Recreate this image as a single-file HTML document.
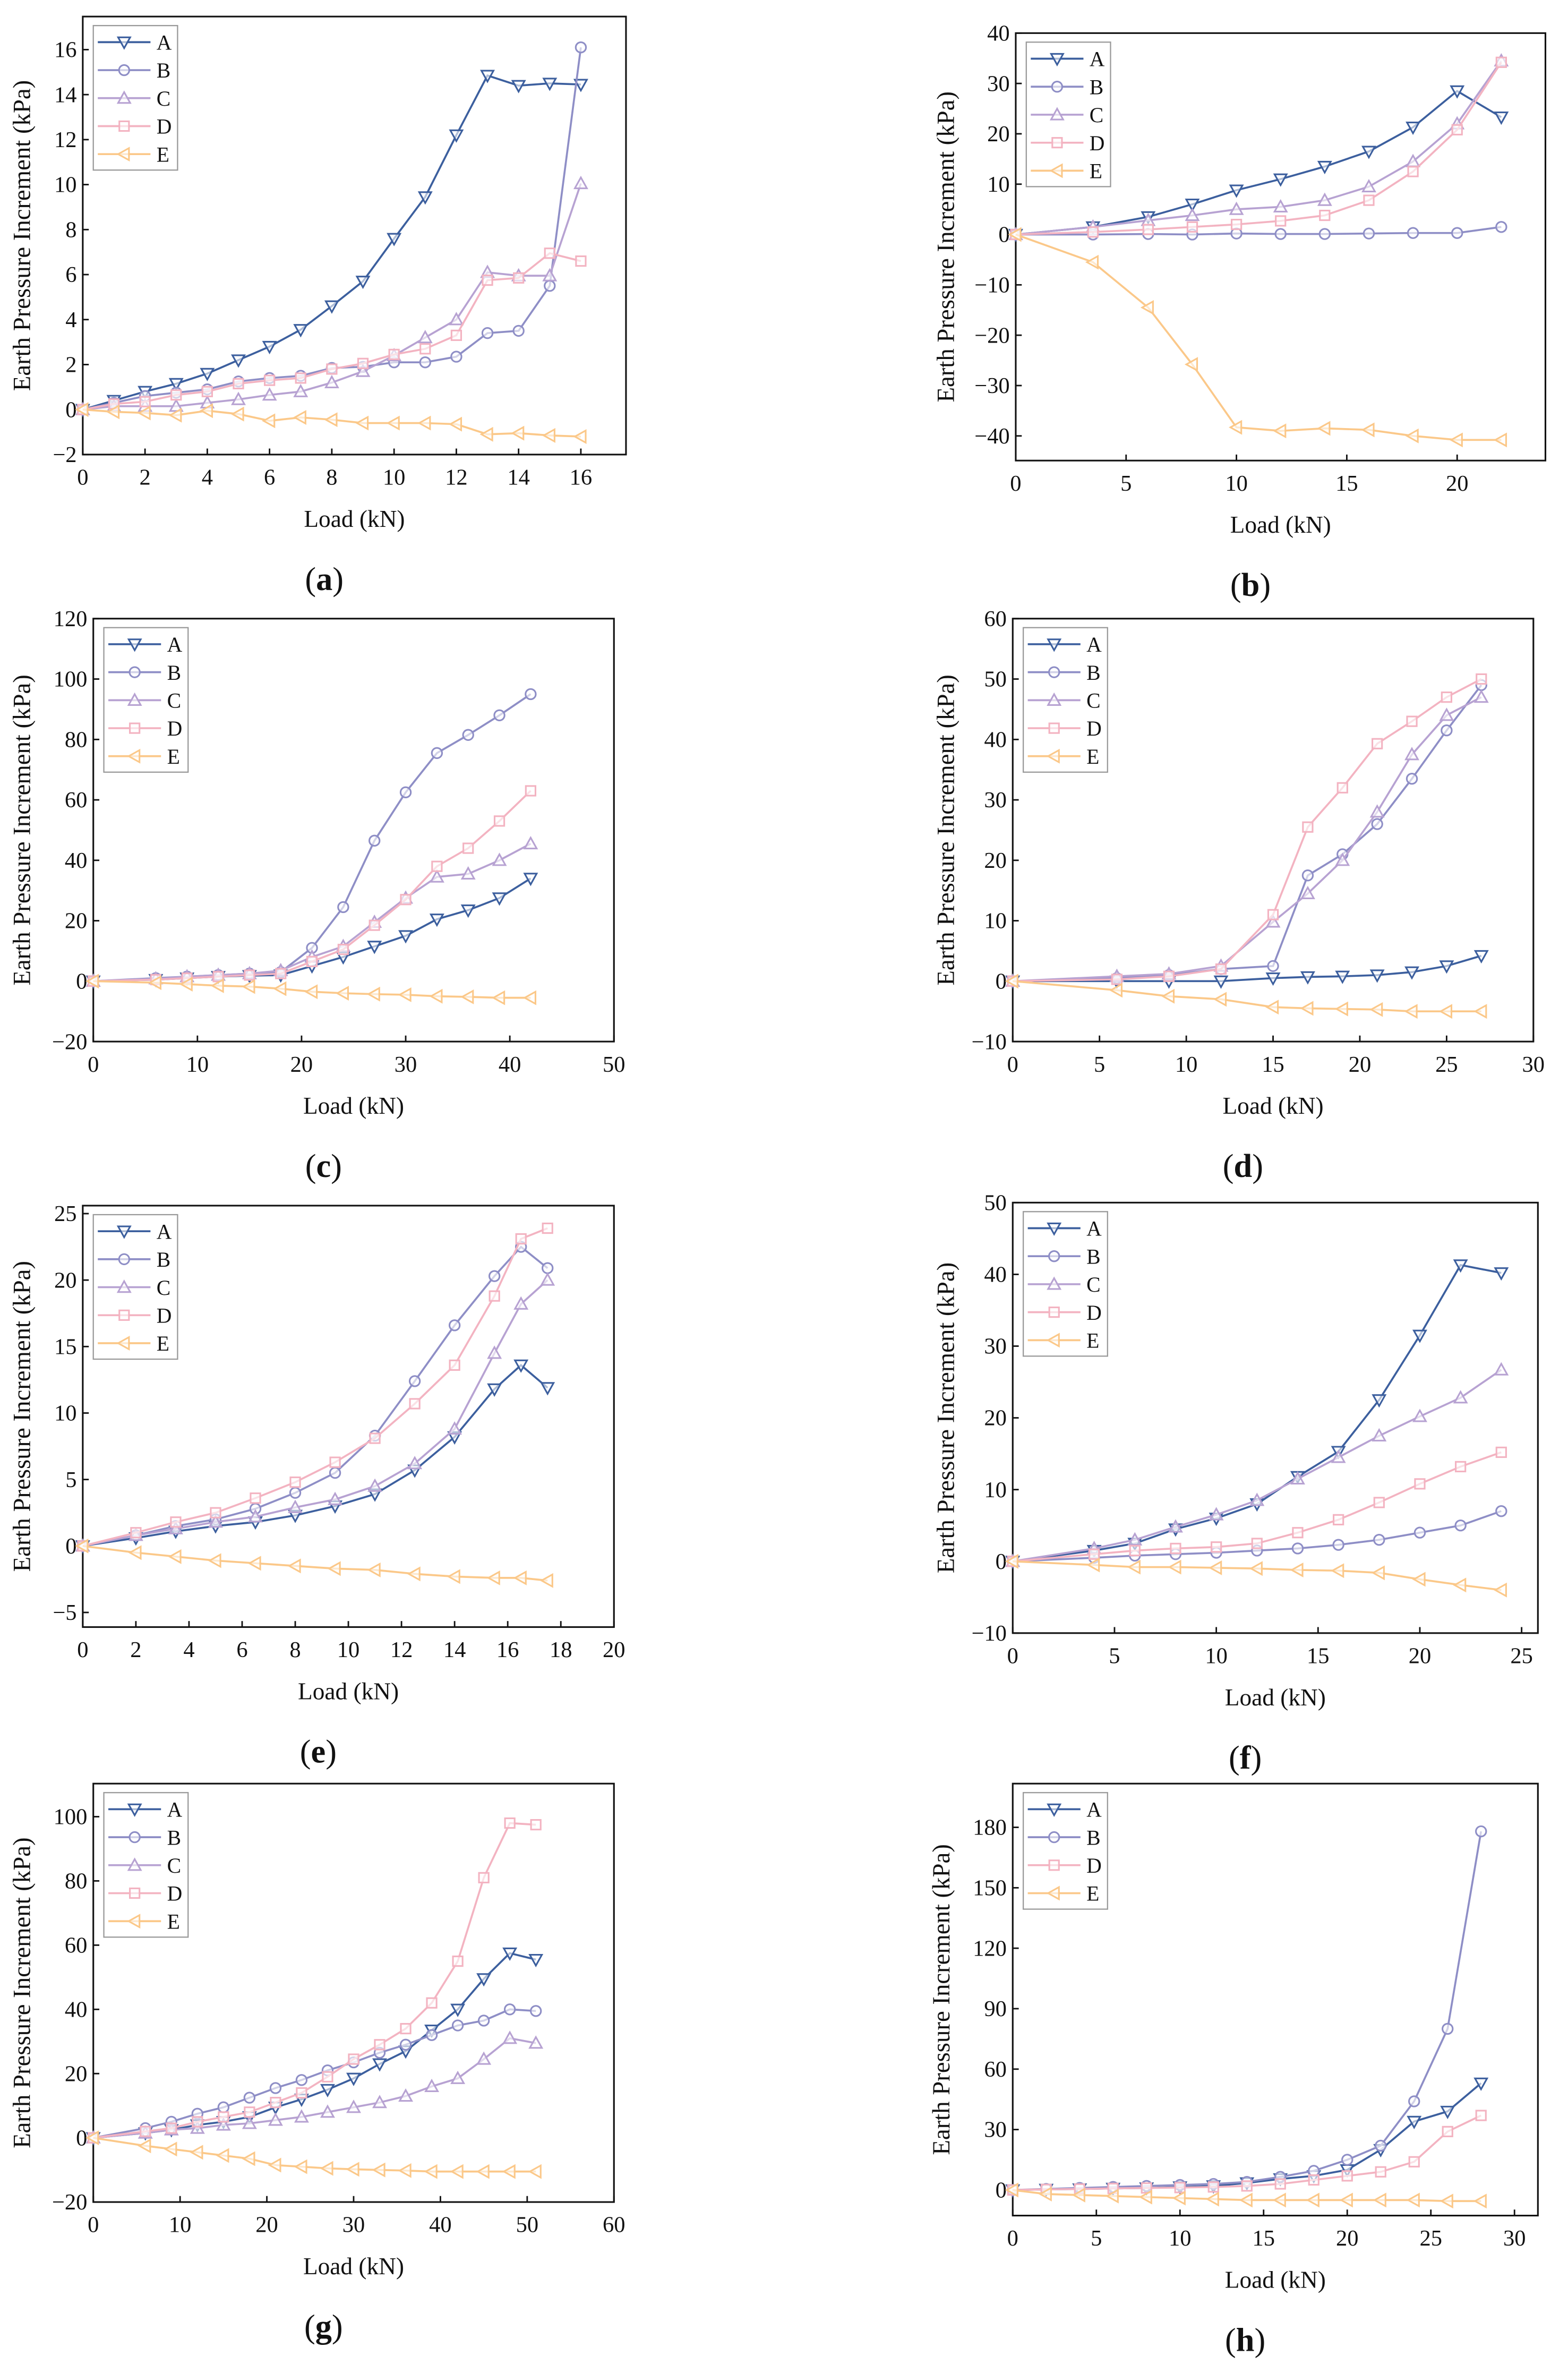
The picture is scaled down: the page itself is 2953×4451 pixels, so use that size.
<!DOCTYPE html>
<html><head><meta charset="utf-8">
<style>
html,body{margin:0;padding:0;background:#fff;}
svg{display:block;}
text{font-family:"Liberation Serif",serif;fill:#111;}
</style></head>
<body>
<svg id="fig" width="2953" height="4451" viewBox="0 0 1042 1570.6" preserveAspectRatio="none" xmlns="http://www.w3.org/2000/svg"></svg>
<script>
// ---- data ----
const xa = [0,1,2,3,4,5,6,7,8,9,10,11,12,13,14,15,16];
const aA = [0,0.4,0.8,1.15,1.6,2.2,2.8,3.55,4.6,5.7,7.6,9.45,12.2,14.85,14.4,14.5,14.45];
const aB = [0,0.3,0.6,0.75,0.9,1.25,1.4,1.5,1.85,1.9,2.1,2.1,2.35,3.4,3.5,5.5,16.1];
const aC = [0,0.15,0.15,0.15,0.3,0.45,0.65,0.8,1.2,1.7,2.4,3.2,4.0,6.1,5.95,5.95,10.05];
const aD = [0,0.25,0.35,0.65,0.8,1.15,1.3,1.4,1.8,2.05,2.45,2.7,3.3,5.75,5.85,6.95,6.6];
const aE = [0,-0.1,-0.15,-0.25,-0.05,-0.2,-0.5,-0.35,-0.45,-0.6,-0.6,-0.6,-0.65,-1.1,-1.05,-1.15,-1.2];

const xb = [0,3.5,6,8,10,12,14,16,18,20,22];
const bA = [0,1.5,3.5,6,8.8,11,13.5,16.5,21.3,28.5,23.3];
const bB = [0,0,0.1,0,0.2,0.1,0.1,0.2,0.3,0.3,1.5];
const bC = [0,1.5,2.8,3.8,5,5.5,6.8,9.5,14.5,22,34.5];
const bD = [0,0.5,1,1.5,2,2.7,3.8,6.8,12.5,20.8,34.2];
const bE = [0,-5.5,-14.5,-25.8,-38.3,-39,-38.5,-38.8,-40,-40.8,-40.8];

const xc = [0,6,9,12,15,18,21,24,27,30,33,36,39,42];
const cA = [0,0.5,1,1.5,1.8,2,5,8,11.5,15,20.5,23.5,27.5,34];
const cB = [0,1,1.5,2,2.5,3,11,24.5,46.5,62.5,75.5,81.5,88,95];
const cC = [0,0.8,1.5,2,2.5,3.5,8,11.5,19.5,27.5,34.5,35.5,40,45.5];
const cD = [0,0.5,1,1.5,2,2.5,6.5,10.5,18.5,27,38,44,53,63];
const cE = [0,-0.5,-1,-1.5,-1.8,-2.5,-3.5,-4,-4.3,-4.5,-5,-5.2,-5.5,-5.5];

const xd = [0,6,9,12,15,17,19,21,23,25,27];
const dA = [0,0,0,0,0.5,0.7,0.8,1,1.5,2.5,4.2];
const dB = [0,0.5,1,2,2.5,17.5,21,26,33.5,41.5,49];
const dC = [0,0.8,1.2,2.5,9.8,14.5,20,28,37.5,44,47];
const dD = [0,0.3,0.8,2,11,25.5,32,39.3,43,47,50];
const dE = [0,-1.5,-2.5,-3,-4.3,-4.5,-4.6,-4.7,-5,-5,-5];

const xe = [0,2,3.5,5,6.5,8,9.5,11,12.5,14,15.5,16.5,17.5];
const eA = [0,0.6,1.1,1.5,1.8,2.3,3,3.9,5.7,8.2,11.8,13.6,11.9];
const eB = [0,0.8,1.5,2,2.8,4,5.5,8.3,12.4,16.6,20.3,22.5,20.9];
const eC = [0,0.8,1.3,1.8,2.2,2.9,3.5,4.5,6.2,8.8,14.5,18.2,20];
const eD = [0,1,1.8,2.5,3.6,4.8,6.3,8.1,10.7,13.6,18.8,23.1,23.9];
const eE = [0,-0.5,-0.8,-1.1,-1.3,-1.5,-1.7,-1.8,-2.1,-2.3,-2.4,-2.4,-2.6];

const xf = [0,4,6,8,10,12,14,16,18,20,22,24];
const fA = [0,1.5,2.5,4.5,6,8,11.8,15.3,22.5,31.5,41.3,40.2];
const fB = [0,0.5,0.8,1,1.2,1.5,1.8,2.3,3,4,5,7];
const fC = [0,1.8,3,4.8,6.5,8.5,11.5,14.5,17.5,20.2,22.8,26.7];
const fD = [0,1,1.5,1.8,2,2.5,4,5.8,8.2,10.8,13.2,15.2];
const fE = [0,-0.5,-0.8,-0.8,-0.9,-1,-1.2,-1.3,-1.6,-2.5,-3.3,-4];

const xg = [0,6,9,12,15,18,21,24,27,30,33,36,39,42,45,48,51];
const gA = [0,1.5,2.5,4,5,6.5,9.5,12,15,18.5,23,27,33.5,40,49.5,57.5,55.5];
const gB = [0,3,5,7.5,9.5,12.5,15.5,18,21,23.5,26.5,29,32,35,36.5,40,39.5];
const gC = [0,1.5,2.5,3,4,4.5,5.5,6.5,8,9.5,11,13,16,18.5,24.5,31,29.5];
const gD = [0,2,3,5,6.5,8,11,14,19,24.5,29,34,42,55,81,98,97.5];
const gE = [0,-2.5,-3.5,-4.5,-5.5,-6.5,-8.5,-9,-9.5,-9.8,-10,-10.2,-10.5,-10.5,-10.5,-10.5,-10.5];

const xh = [0,2,4,6,8,10,12,14,16,18,20,22,24,26,28];
const hA = [0,0.3,0.5,0.8,1,1.5,2,3.5,5.5,7,10,20,34,39,53];
const hB = [0,0.5,1,1.5,2,2.5,3,4,6.5,9.5,15,22,44,80,178];
const hD = [0,0.3,0.5,0.8,1,1.2,1.5,2,3,5,7,9,14,29,37];
const hE = [0,-2,-2.5,-3,-3.5,-4,-4.5,-5,-5,-5,-5,-5,-5,-5.5,-5.5];

const xTicksA=[0,2,4,6,8,10,12,14,16], yTicksA=[-2,0,2,4,6,8,10,12,14,16];
const xTicksB=[0,5,10,15,20], yTicksB=[-40,-30,-20,-10,0,10,20,30,40];
const xTicksC=[0,10,20,30,40,50], yTicksC=[-20,0,20,40,60,80,100,120];
const xTicksD=[0,5,10,15,20,25,30], yTicksD=[-10,0,10,20,30,40,50,60];
const xTicksE=[0,2,4,6,8,10,12,14,16,18,20], yTicksE=[-5,0,5,10,15,20,25];
const xTicksF=[0,5,10,15,20,25], yTicksF=[-10,0,10,20,30,40,50];
const xTicksG=[0,10,20,30,40,50,60], yTicksG=[-20,0,20,40,60,80,100];
const xTicksH=[0,5,10,15,20,25,30], yTicksH=[0,30,60,90,120,150,180];

// ---- styling ----
const COL={A:"#3c5f9e",B:"#8e8ec6",C:"#b7a2d2",D:"#f3b3c1",E:"#fbc889"};
const NS="http://www.w3.org/2000/svg";
const svg=document.getElementById('fig');
function mk(tag,attrs,parent){const e=document.createElementNS(NS,tag);for(const k in attrs)e.setAttribute(k,attrs[k]);(parent||svg).appendChild(e);return e;}
function fmt(v){return v<0?"\u2212"+(-v):String(v);}

function marker(g,key,x,y,r){
  let e;
  if(key==="A") e=mk('polygon',{points:`${x-r},${y-r*0.8} ${x+r},${y-r*0.8} ${x},${y+r}`},g);
  else if(key==="B") e=mk('circle',{cx:x,cy:y,r:r*0.85},g);
  else if(key==="C") e=mk('polygon',{points:`${x-r},${y+r*0.8} ${x+r},${y+r*0.8} ${x},${y-r}`},g);
  else if(key==="D") e=mk('rect',{x:x-r*0.8,y:y-r*0.8,width:r*1.6,height:r*1.6},g);
  else e=mk('polygon',{points:`${x+r*0.8},${y-r} ${x+r*0.8},${y+r} ${x-r},${y}`},g);
  e.setAttribute('fill','#fff');e.setAttribute('fill-opacity','0.6');
  e.setAttribute('stroke',COL[key]);e.setAttribute('stroke-width','1.1');
  return e;
}

function panel(p){
  const g=mk('g',{});
  
  
  const X=v=>p.L+(v-p.x0)/(p.x1-p.x0)*(p.R-p.L);
  const Y=v=>p.B-(v-p.y0)/(p.y1-p.y0)*(p.B-p.T);
  const frame=mk('rect',{x:p.L,y:p.T,width:p.R-p.L,height:p.B-p.T,fill:'none',stroke:'#111','stroke-width':1.1},g);
  
  
  p.xt.forEach(v=>{
    const x=X(v);
    mk('line',{x1:x,x2:x,y1:p.B,y2:p.B-4,stroke:'#111','stroke-width':1},g);
    const t=mk('text',{x:x,y:p.B+20,'font-size':15,'text-anchor':'middle'},g);
    t.textContent=fmt(v);
    
    
  });
  p.yt.forEach(v=>{
    const y=Y(v);
    mk('line',{x1:p.L,x2:p.L+4,y1:y,y2:y,stroke:'#111','stroke-width':1},g);
    const t=mk('text',{x:p.L-4,y:y+5,'font-size':15,'text-anchor':'end'},g);
    t.textContent=fmt(v);
    
    
  });
  const xt=mk('text',{x:(p.L+p.R)/2,y:p.B+48,'font-size':16,'text-anchor':'middle'},g);
  xt.textContent='Load (kN)';
  
  
  const cy=(p.T+p.B)/2, cx=p.L-p.yoff;
  const yt=mk('text',{x:cx,y:cy,'font-size':16.5,'text-anchor':'middle',transform:`rotate(-90 ${cx} ${cy})`},g);
  yt.textContent='Earth Pressure Increment (kPa)';
  
  
  const pl=mk('text',{x:(p.L+p.R)/2-20,y:p.B+90,'font-size':22,'text-anchor':'middle'},g);
  pl.innerHTML='(<tspan font-weight="bold">'+p.id+'</tspan>)';
  
  
  p.series.forEach(s=>{
    const sg=mk('g',{},g);
    
    
    const pts=s.v.map((v,i)=>X(p.xs[i])+','+Y(v)).join(' ');
    mk('polyline',{points:pts,fill:'none',stroke:COL[s.k],'stroke-width':1.3},sg);
    s.v.forEach((v,i)=>{
      const m=marker(sg,s.k,X(p.xs[i]),Y(v),4);
      
      
    });
  });
  const lx=p.L+7, ly=p.T+6, n=p.series.length, h=n*18.6+3;
  const lg=mk('g',{},g);
  
  
  mk('rect',{x:lx,y:ly,width:56,height:h,fill:'#fff',stroke:'#999','stroke-width':0.8},lg);
  p.series.forEach((s,i)=>{
    const y=ly+11+i*18.6;
    const eg=mk('g',{},lg);
    
    
    mk('line',{x1:lx+3,x2:lx+38,y1:y,y2:y,stroke:COL[s.k],'stroke-width':1.3},eg);
    marker(eg,s.k,lx+20.5,y,4);
    const t=mk('text',{x:lx+42,y:y+5,'font-size':14},eg);
    t.textContent=s.k;
  });
}

const S=(A,B,C,D,E)=>{const a=[];if(A)a.push({k:'A',v:A});if(B)a.push({k:'B',v:B});if(C)a.push({k:'C',v:C});if(D)a.push({k:'D',v:D});if(E)a.push({k:'E',v:E});return a;};

panel({id:'a',L:55,T:11,R:416,B:302,x0:0,x1:17.45,y0:-2,y1:17.47,xt:xTicksA,yt:yTicksA,xs:xa,series:S(aA,aB,aC,aD,aE),yoff:35});
panel({id:'b',L:675,T:22,R:1027,B:306,x0:0,x1:24,y0:-44.9,y1:40,xt:xTicksB,yt:yTicksB,xs:xb,series:S(bA,bB,bC,bD,bE),yoff:41});
panel({id:'c',L:62,T:411,R:408,B:692,x0:0,x1:50,y0:-20,y1:120,xt:xTicksC,yt:yTicksC,xs:xc,series:S(cA,cB,cC,cD,cE),yoff:42});
panel({id:'d',L:673,T:411,R:1019,B:692,x0:0,x1:30,y0:-10,y1:60,xt:xTicksD,yt:yTicksD,xs:xd,series:S(dA,dB,dC,dD,dE),yoff:39});
panel({id:'e',L:55,T:801,R:408,B:1081,x0:0,x1:20,y0:-6.1,y1:25.6,xt:xTicksE,yt:yTicksE,xs:xe,series:S(eA,eB,eC,eD,eE),yoff:35});
panel({id:'f',L:673,T:799,R:1022,B:1085,x0:0,x1:25.8,y0:-10,y1:50,xt:xTicksF,yt:yTicksF,xs:xf,series:S(fA,fB,fC,fD,fE),yoff:39});
panel({id:'g',L:62,T:1185,R:408,B:1463,x0:0,x1:60,y0:-20,y1:110.3,xt:xTicksG,yt:yTicksG,xs:xg,series:S(gA,gB,gC,gD,gE),yoff:42});
panel({id:'h',L:673,T:1185,R:1022,B:1472,x0:0,x1:31.4,y0:-12.7,y1:201.7,xt:xTicksH,yt:yTicksH,xs:xh,series:S(hA,hB,null,hD,hE),yoff:42});
</script>
</body></html>
